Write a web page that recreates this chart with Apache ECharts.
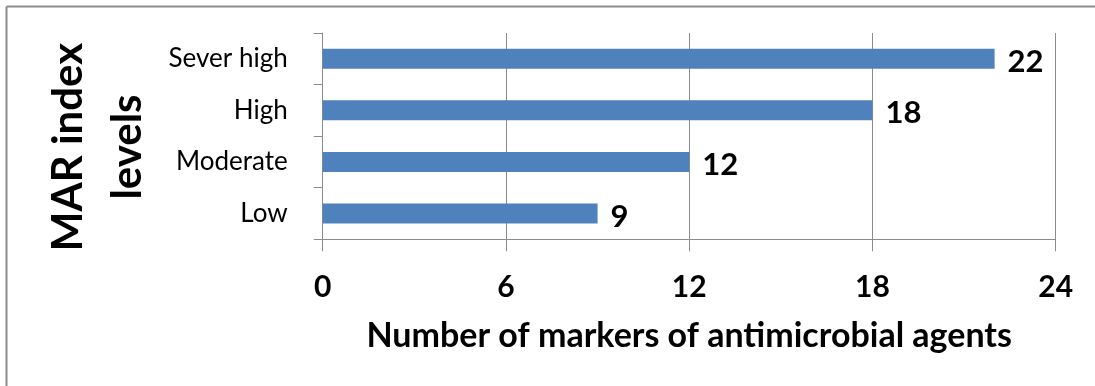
<!DOCTYPE html>
<html>
<head>
<meta charset="utf-8">
<script src="https://cdn.jsdelivr.net/npm/echarts@6/dist/echarts.min.js"></script>
<style>
  html, body { margin: 0; padding: 0; background: #fff; }
  #chart { width: 1095px; height: 386px; }
</style>
</head>
<body>
<div id="chart"></div>
<script>
// MAR index levels vs. number of antimicrobial agent markers
const levels = ['Low', 'Moderate', 'High', 'Sever high'];
const markerCounts = [9, 12, 18, 22];
const xTicks = [0, 6, 12, 18, 24];

const FONT = 'Lato, "Open Sans", sans-serif';
const chart = echarts.init(document.getElementById('chart'), null, { renderer: 'canvas' });

chart.setOption({
  animation: false,
  backgroundColor: '#ffffff',
  grid: { left: 322.7, right: 39.3, top: 33, bottom: 146.7, containLabel: false },
  xAxis: {
    type: 'value',
    min: xTicks[0],
    max: xTicks[xTicks.length - 1],
    interval: xTicks[1] - xTicks[0],
    name: 'Number of markers of antimicrobial agents',
    nameLocation: 'middle',
    nameGap: 80,
    nameTextStyle: { fontFamily: FONT, fontWeight: 'bold', fontSize: 34, color: '#000' },
    axisLine: { show: true, lineStyle: { color: '#8c8c8c', width: 1 } },
    axisTick: { show: true, length: 12, lineStyle: { color: '#8c8c8c' } },
    axisLabel: { margin: 33, fontFamily: FONT, fontWeight: 'bold', fontSize: 30, color: '#000' },
    splitLine: { show: true, lineStyle: { color: '#8c8c8c', width: 1 } }
  },
  yAxis: {
    type: 'category',
    data: levels,
    axisLine: { show: true, lineStyle: { color: '#8c8c8c', width: 1 } },
    axisTick: { show: true, length: 9, alignWithLabel: false, lineStyle: { color: '#8c8c8c' } },
    axisLabel: { margin: 35, fontFamily: FONT, fontSize: 26, color: '#000' },
    splitLine: { show: false }
  },
  graphic: [
    {
      type: 'line',
      shape: { x1: 6.5, y1: 386, x2: 6.5, y2: 6.5 },
      style: { stroke: '#8c8c8c', lineWidth: 2 }
    },
    {
      type: 'line',
      shape: { x1: 6.5, y1: 6.5, x2: 1095, y2: 6.5 },
      style: { stroke: '#8c8c8c', lineWidth: 2 }
    },
    {
      type: 'text',
      x: 98, y: 147,
      rotation: Math.PI / 2,
      style: {
        text: 'MAR index\nlevels',
        fontFamily: FONT, fontWeight: 'bold', fontSize: 42, lineHeight: 59,
        fill: '#000', align: 'center', verticalAlign: 'middle'
      }
    }
  ],
  series: [{
    type: 'bar',
    data: markerCounts,
    barWidth: 20,
    itemStyle: { color: '#4f81bd' },
    label: {
      show: true, position: 'right', distance: 13, offset: [0, 3],
      fontFamily: FONT, fontWeight: 'bold', fontSize: 31, color: '#000'
    }
  }]
});
</script>
</body>
</html>
